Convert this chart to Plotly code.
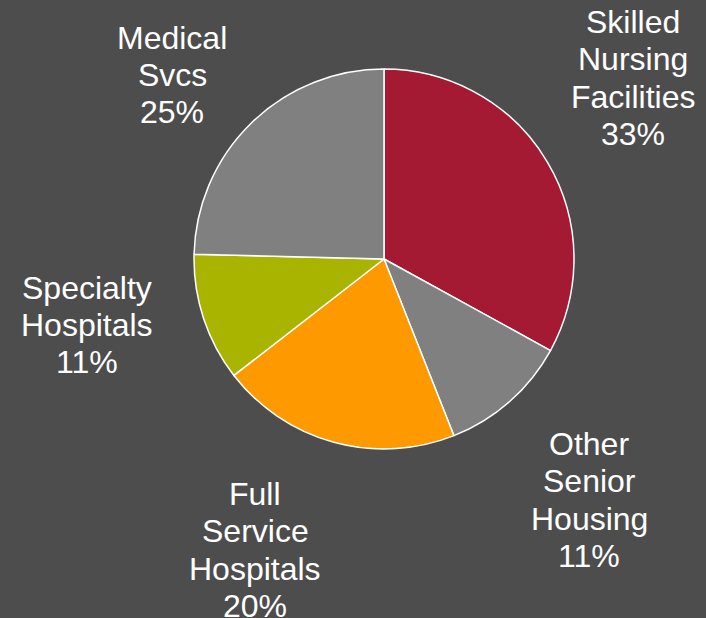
import plotly.graph_objects as go

# Data
categories = ["Skilled Nursing Facilities", "Other Senior Housing", "Full Service Hospitals",
              "Specialty Hospitals", "Medical Svcs"]
shares = [33.0, 11.0, 20.5, 10.9, 24.6]
label_lines = [["Skilled", "Nursing", "Facilities", "33%"],
               ["Other", "Senior", "Housing", "11%"],
               ["Full", "Service", "Hospitals", "20%"],
               ["Specialty", "Hospitals", "11%"],
               ["Medical", "Svcs", "25%"]]
colors = ["#A51A33", "#808080", "#FF9900", "#A9B400", "#808080"]

W, H = 706, 618
BG = "#4D4D4D"

# label block centres (pixels) and line spacing
label_pos = [(633, 78), (589, 500), (255, 550), (87, 325), (172, 75)]
line_step = 37.4

# pie geometry in pixels
cx, cy, r = 384, 259, 190

fig = go.Figure(go.Pie(
    labels=categories,
    values=shares,
    sort=False,
    direction="clockwise",
    rotation=0,
    marker=dict(colors=colors, line=dict(color="white", width=1.5)),
    textinfo="none",
    hoverinfo="skip",
    showlegend=False,
    domain=dict(x=[(cx - r) / W, (cx + r) / W], y=[1 - (cy + r) / H, 1 - (cy - r) / H]),
))

annotations = []
for lines, (lx, ly) in zip(label_lines, label_pos):
    n = len(lines)
    for i, t in enumerate(lines):
        py = ly + (i - (n - 1) / 2) * line_step
        annotations.append(dict(
            text=t, x=lx / W, y=1 - py / H, xref="paper", yref="paper",
            xanchor="center", yanchor="middle", showarrow=False,
            font=dict(family="Liberation Sans, Arial, sans-serif", size=32, color="white"),
        ))

fig.update_layout(
    width=W, height=H,
    margin=dict(l=0, r=0, t=0, b=0),
    paper_bgcolor=BG, plot_bgcolor=BG,
    annotations=annotations,
)

fig.write_html("out.html", config={"displayModeBar": False},
               post_script="document.body.style.margin='0px';document.body.style.background='#4D4D4D';")
